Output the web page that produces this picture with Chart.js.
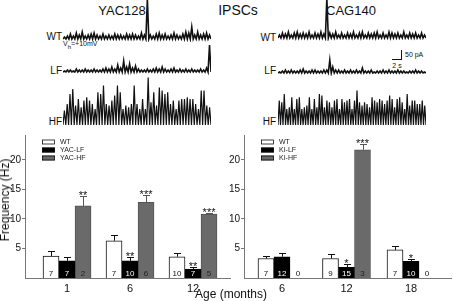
<!DOCTYPE html>
<html>
<head>
<meta charset="utf-8">
<script src="https://cdn.jsdelivr.net/npm/chart.js@4.4.0/dist/chart.umd.min.js"></script>
<style>
  body { margin: 0; background: #fff; }
  #wrap { position: relative; width: 453px; height: 301px; overflow: hidden; font-family: "Liberation Sans", Arial, sans-serif; color: #111; }
  #wrap canvas { position: absolute; }
  .t { position: absolute; white-space: nowrap; line-height: 1; }
</style>
</head>
<body>
<div id="wrap">
  <div class="t" style="left:122px;top:10px;font-size:13px;transform:translate(-50%,-50%)">YAC128</div>
  <div class="t" style="left:238px;top:10px;font-size:14px;transform:translate(-50%,-50%)">IPSCs</div>
  <div class="t" style="left:351px;top:10px;font-size:13px;transform:translate(-50%,-50%)">CAG140</div>

  <div class="t" style="left:62px;top:37px;font-size:10px;transform:translate(-100%,-50%)">WT</div>
  <div class="t" style="left:63px;top:45px;font-size:7px;transform:translateY(-50%)">V<sub style="font-size:6px">h</sub>=+10mV</div>
  <div class="t" style="left:62px;top:71px;font-size:10px;transform:translate(-100%,-50%)">LF</div>
  <div class="t" style="left:62px;top:122px;font-size:10px;transform:translate(-100%,-50%)">HF</div>

  <div class="t" style="left:276px;top:38px;font-size:10px;transform:translate(-100%,-50%)">WT</div>
  <div class="t" style="left:276px;top:71px;font-size:10px;transform:translate(-100%,-50%)">LF</div>
  <div class="t" style="left:276px;top:122px;font-size:10px;transform:translate(-100%,-50%)">HF</div>

  <!-- scale bar -->
  <div style="position:absolute;left:401px;top:50px;width:1px;height:9px;background:#111"></div>
  <div style="position:absolute;left:392px;top:59px;width:10px;height:1px;background:#111"></div>
  <div class="t" style="left:405px;top:54px;font-size:7px;transform:translateY(-50%)">50 pA</div>
  <div class="t" style="left:397px;top:65px;font-size:7px;transform:translate(-50%,-50%)">2 s</div>

  <canvas id="tLwt" width="148" height="42" style="left:63px;top:0px"></canvas>
  <canvas id="tLlf" width="148" height="33" style="left:63px;top:42px"></canvas>
  <canvas id="tLhf" width="148" height="55" style="left:63px;top:73px"></canvas>
  <canvas id="tRwt" width="148" height="41" style="left:278px;top:0px"></canvas>
  <canvas id="tRlf" width="148" height="23" style="left:278px;top:53px"></canvas>
  <canvas id="tRhf" width="148" height="43" style="left:278px;top:85px"></canvas>

  <canvas id="barsL" width="232" height="176" style="left:0px;top:125px"></canvas>
  <canvas id="barsR" width="228" height="176" style="left:225px;top:125px"></canvas>

  <div class="t" style="left:5px;top:200px;font-size:12px;transform:translate(-50%,-50%) rotate(-90deg)">Frequency (Hz)</div>
  <div class="t" style="left:231px;top:294px;font-size:12px;transform:translate(-50%,-50%)">Age (months)</div>
</div>

<script>
// example traces, spike amplitudes in pA
const leftWtTrace = [10,15,25,15,30,20,35,15,20,25,30,20,15,25,15,20,15,25,20,20,15,25,20,25,20,15,30,20,200,20,15,25,30,20,25,15,20,30,20,15,25,35,30,60,20,35,20,25,30,20];
const leftLfTrace = [5,10,10,5,15,10,10,15,10,10,15,10,10,15,20,15,25,15,35,20,55,25,40,20,30,15,10,10,15,10,15,20,15,25,15,10,15,20,10,15,10,15,10,15,10,10,15,10,20,135];
const leftHfTrace = [72,105,155,180,97,130,88,122,138,122,105,80,163,155,197,105,97,122,147,197,163,80,97,88,105,197,105,80,130,80,238,113,163,97,188,172,155,163,105,122,80,122,130,130,138,130,130,105,80,172,172,97,88];
const rightWtTrace = [15,25,20,30,15,25,30,20,25,20,30,15,25,20,30,20,200,25,20,30,15,25,15,25,20,30,15,25,30,15,25,20,25,30,15,25,15,30,25,20,25,15,30,15,25,20,25,15,25,15];
const rightLfTrace = [5,10,15,10,15,10,10,15,20,10,10,15,15,10,10,15,15,65,30,15,15,10,15,10,15,10,15,10,25,10,10,15,5,10,10,15,10,15,10,10,15,10,10,5,10,10,15,10,10,5];
const rightHfTrace = [122,113,155,80,88,138,80,130,138,80,88,97,138,80,130,88,155,147,88,122,113,88,122,130,80,130,113,122,130,80,122,172,113,97,113,105,88,138,122,113,130,122,105,122,147,130,88,130,138,113,80,155,97,122,122,105,105,122,97];

// frequency bars (Hz)
const yTicks = [5, 10, 15, 20];

const leftCats = ['1', '6', '12'];
const leftWT = [3.7, 6.3, 3.6];
const leftWTErr = [0.9, 1.0, 0.6];
const leftLF = [2.9, 2.9, 1.5];
const leftLFErr = [0.7, 0.7, 0.3];
const leftHF = [12.2, 12.8, 10.8];
const leftHFErr = [1.7, 1.3, 0.15];
const leftWTn = [7, 7, 10];
const leftLFn = [7, 10, 7];
const leftHFn = [2, 6, 5];
const leftLFStars = ['', '**', '**'];
const leftHFStars = ['**', '***', '***'];

const rightCats = ['6', '12', '18'];
const rightWT = [3.3, 3.3, 4.75];
const rightWTErr = [0.4, 0.7, 0.65];
const rightLF = [3.6, 1.8, 2.8];
const rightLFErr = [0.6, 0.5, 0.5];
const rightHF = [0, 21.7, 0];
const rightHFErr = [0, 0.9, 0];
const rightWTn = [7, 9, 7];
const rightLFn = [12, 15, 10];
const rightHFn = [0, 3, 0];
const rightLFStars = ['', '*', '*'];
const rightHFStars = ['', '***', ''];

const FONT = '"Liberation Sans", Arial, sans-serif';

function traceChart(id, amps, maxPA, lw) {
  const pts = [];
  amps.forEach(a => { pts.push(0, a); });
  pts.push(0);
  new Chart(document.getElementById(id), {
    type: 'line',
    data: {
      labels: pts.map((_, i) => i),
      datasets: [{ data: pts, borderColor: '#111', borderWidth: lw, pointRadius: 0, tension: 0 }]
    },
    options: {
      responsive: false, animation: false, events: [],
      layout: { padding: 0 },
      plugins: { legend: { display: false }, tooltip: { enabled: false } },
      scales: { x: { display: false }, y: { display: false, min: -15, max: maxPA } }
    }
  });
}

traceChart('tLwt', leftWtTrace, 195, 1.6);
traceChart('tLlf', leftLfTrace, 150, 1.6);
traceChart('tLhf', leftHfTrace, 260, 1.2);
traceChart('tRwt', rightWtTrace, 190, 1.6);
traceChart('tRlf', rightLfTrace, 100, 1.6);
traceChart('tRhf', rightHfTrace, 200, 1.2);

const extras = {
  id: 'extras',
  afterDatasetsDraw(chart) {
    const ctx = chart.ctx;
    const ys = chart.scales.y;
    const base = ys.getPixelForValue(0);
    ctx.save();
    chart.data.datasets.forEach((ds, di) => {
      chart.getDatasetMeta(di).data.forEach((bar, i) => {
        const v = ds.data[i].y;
        const e = ds.errs[i];
        const top = ys.getPixelForValue(v);
        const et = ys.getPixelForValue(v + e);
        if (e > 0) {
          ctx.strokeStyle = ds.errColor;
          ctx.lineWidth = 1;
          ctx.beginPath();
          ctx.moveTo(Math.round(bar.x) + 0.5, top);
          ctx.lineTo(Math.round(bar.x) + 0.5, Math.round(et) + 0.5);
          ctx.moveTo(Math.round(bar.x) - 3, Math.round(et) + 0.5);
          ctx.lineTo(Math.round(bar.x) + 4, Math.round(et) + 0.5);
          ctx.stroke();
        }
        ctx.textAlign = 'center';
        if (ds.stars[i]) {
          ctx.fillStyle = '#111';
          ctx.font = '11px ' + FONT;
          ctx.textBaseline = 'alphabetic';
          ctx.fillText(ds.stars[i], bar.x, et + 3);
        }
        ctx.fillStyle = v > 0 ? ds.nColor : '#111';
        ctx.font = '8px ' + FONT;
        ctx.textBaseline = 'alphabetic';
        ctx.fillText(String(ds.n[i]), bar.x, base - 2);
      });
    });
    // legend
    const lx = chart.chartArea.left + 17;
    chart.data.datasets.forEach((ds, di) => {
      const ly = chart.chartArea.top + 7 + di * 8;
      ctx.fillStyle = ds.backgroundColor;
      ctx.fillRect(lx, ly - 2.5, 13, 5);
      ctx.strokeStyle = '#111';
      ctx.lineWidth = 0.8;
      ctx.strokeRect(lx + 0.5, ly - 2, 12, 4);
      ctx.fillStyle = '#222';
      ctx.font = '7px ' + FONT;
      ctx.textAlign = 'left';
      ctx.textBaseline = 'middle';
      ctx.fillText(ds.label, lx + 18, ly);
    });
    ctx.restore();
  }
};

function barChart(id, cats, xMin, xMax, axisW, series) {
  const datasets = series.map(s => ({
    label: s.label,
    data: s.values.map((v, i) => ({ x: i + 1, y: v })),
    errs: s.errs, n: s.n, stars: s.stars,
    backgroundColor: s.fill, borderColor: s.edge, borderWidth: 1,
    errColor: s.errColor, nColor: s.nColor,
    barThickness: 16, borderSkipped: 'start'
  }));
  new Chart(document.getElementById(id), {
    type: 'bar',
    data: { datasets },
    options: {
      responsive: false, animation: false, events: [],
      layout: { padding: { top: 10, right: 2, left: 0, bottom: 0 } },
      plugins: { legend: { display: false }, tooltip: { enabled: false } },
      scales: {
        x: {
          type: 'linear', min: xMin, max: xMax, offset: false,
          afterBuildTicks: s => { s.ticks = cats.map((c, i) => ({ value: i + 1 })); },
          afterFit: s => { s.height = 23; },
          grid: { display: false, drawTicks: false, offset: false },
          border: { color: '#777', width: 1 },
          ticks: { callback: v => cats[v - 1], font: { size: 11, family: FONT }, color: '#111', padding: 4, autoSkip: false, maxRotation: 0 }
        },
        y: {
          min: 0, max: 24.2,
          afterBuildTicks: s => { s.ticks = yTicks.map(v => ({ value: v })); },
          afterFit: s => { s.width = axisW; },
          grid: { drawOnChartArea: false, tickLength: 3, color: '#777' },
          border: { color: '#777', width: 1 },
          ticks: { font: { size: 10, family: FONT }, color: '#111', padding: 1 }
        }
      }
    },
    plugins: [extras]
  });
}

barChart('barsL', leftCats, 0.333, 3.587, 25, [
  { label: 'WT', values: leftWT, errs: leftWTErr, n: leftWTn, stars: ['', '', ''], fill: '#ffffff', edge: '#111', errColor: '#111', nColor: '#111' },
  { label: 'YAC-LF', values: leftLF, errs: leftLFErr, n: leftLFn, stars: leftLFStars, fill: '#000000', edge: '#000', errColor: '#111', nColor: '#fff' },
  { label: 'YAC-HF', values: leftHF, errs: leftHFErr, n: leftHFn, stars: leftHFStars, fill: '#6a6a6a', edge: '#555', errColor: '#555', nColor: '#222' }
]);

barChart('barsR', rightCats, 0.411, 3.62, 19, [
  { label: 'WT', values: rightWT, errs: rightWTErr, n: rightWTn, stars: ['', '', ''], fill: '#ffffff', edge: '#111', errColor: '#111', nColor: '#111' },
  { label: 'KI-LF', values: rightLF, errs: rightLFErr, n: rightLFn, stars: rightLFStars, fill: '#000000', edge: '#000', errColor: '#111', nColor: '#fff' },
  { label: 'KI-HF', values: rightHF, errs: rightHFErr, n: rightHFn, stars: rightHFStars, fill: '#6a6a6a', edge: '#555', errColor: '#555', nColor: '#222' }
]);
</script>
</body>
</html>
